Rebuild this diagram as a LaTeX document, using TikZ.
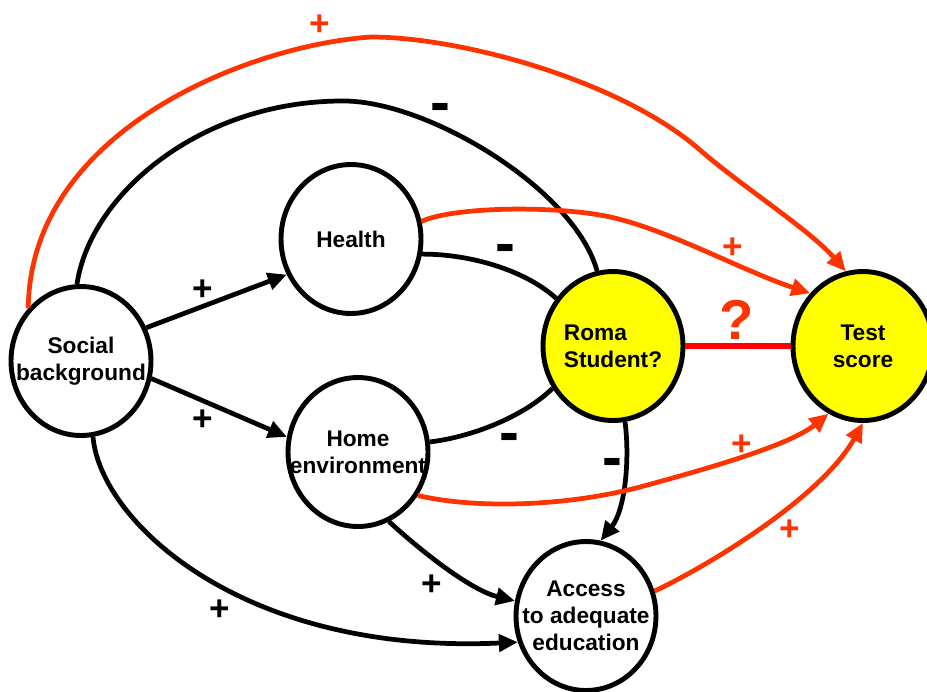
\documentclass[tikz,border=0pt]{standalone}
\usepackage{fontspec}
\setmainfont{Liberation Sans}
\usetikzlibrary{shapes.geometric, arrows.meta}
\definecolor{signred}{RGB}{255,51,0}
\definecolor{linkred}{RGB}{255,0,0}
\definecolor{romayellow}{RGB}{255,255,0}
\tikzstyle{factor} = [ellipse, draw=black, line width=2.8pt, fill=white, minimum width=2.8cm, minimum height=2.98cm, inner xsep=-12pt, inner ysep=0pt, align=center, font=\fontsize{12.9}{15.2}\selectfont\bfseries]
\tikzstyle{outcome} = [factor, fill=romayellow]
\tikzstyle{link} = [line width=2.7pt]
\tikzstyle{arrow} = [link, -{Triangle[length=0.38cm, width=0.34cm]}]
\tikzstyle{redarrow} = [arrow, draw=signred]
\tikzstyle{redlink} = [line width=2.9pt, draw=linkred]
\tikzstyle{sign} = [inner sep=0pt, font=\fontsize{20}{20}\selectfont\bfseries]
\tikzstyle{minus} = [inner sep=0pt, font=\fontsize{34}{34}\selectfont\bfseries]

\begin{document}
\begin{tikzpicture}[x=0.02cm, y=-0.02cm]
\useasboundingbox (0,0) rectangle (927,691);

\node (social) [factor] at (81,361) {Social\\background};
\node (health) [factor] at (351,239) {Health};
\node (home) [factor] at (358,452) {Home\\environment};
\node (roma) [outcome, align=left] at (613,346) {Roma\\Student?};
\node (test) [outcome] at (863,346) {Test\\score};
\node (access) [factor] at (586,616) {Access\\to adequate\\education};

% black paths
\draw [arrow] (social.27) -- (health.209);
\draw [arrow] (social.346) -- (home.168);
\draw [link] (social.93) .. controls (90,195) and (200,100) .. (345,101) .. controls (430,102) and (575,190) .. (roma.102);
\draw [link] (health.348) .. controls (470,254) and (525,270) .. (roma.140);
\draw [link] (home.8) .. controls (465,438) and (520,420) .. (roma.215);
\draw [arrow] (roma.279) .. controls (630,460) and (625,510) .. (access.79);
\draw [arrow] (home.294) .. controls (420,550) and (470,590) .. (access.168);
\draw [arrow] (social.279) .. controls (100,520) and (240,655) .. (access.201);

% red paths
\draw [redarrow] (social.135) .. controls (30,130) and (250,45) .. (371,37) .. controls (460,37) and (620,80) .. (700,150) .. controls (740,185) and (810,230) .. (test.103);
\draw [redarrow] (health.14) .. controls (450,208) and (540,205) .. (600,215) .. controls (660,225) and (740,270) .. (test.135);
\draw [redarrow] (home.324) .. controls (470,508) and (560,508) .. (640,487) .. controls (710,468) and (790,445) .. (test.243);
\draw [redarrow] (access.20) .. controls (700,570) and (820,500) .. (test.270);
\draw [redlink] (roma.east) -- (test.west);

% signs
\node (sgnSH) [sign] at (203,290) {+};
\node (sgnSE) [sign] at (203,420) {+};
\node (sgnSR) [minus] at (440,113) {-};
\node (sgnHR) [minus] at (505,254) {-};
\node (sgnER) [minus] at (509,443) {-};
\node (sgnRA) [minus] at (612,468) {-};
\node (sgnEA) [sign] at (432,585) {+};
\node (sgnSA) [sign] at (220,610) {+};
\node (sgnST) [sign, text=signred] at (320,25) {+};
\node (sgnHT) [sign, text=signred] at (733,248) {+};
\node (sgnET) [sign, text=signred] at (742,445) {+};
\node (sgnAT) [sign, text=signred] at (790,530) {+};
\node (sgnRT) [text=signred, inner sep=0pt, font=\fontsize{32}{32}\selectfont\bfseries] at (737,320) {?};
\end{tikzpicture}
\end{document}
